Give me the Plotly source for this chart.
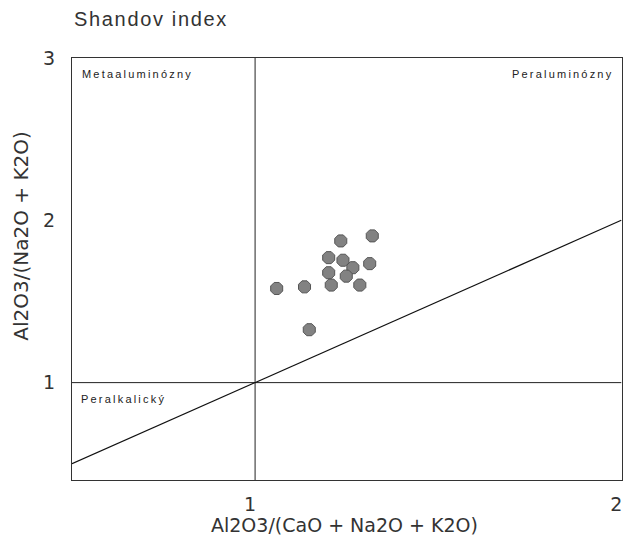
import plotly.graph_objects as go

# sample data: Al2O3/(CaO+Na2O+K2O) vs Al2O3/(Na2O+K2O)
acnk = [1.059, 1.135, 1.148, 1.234, 1.320, 1.201, 1.240, 1.267, 1.313, 1.201, 1.249, 1.208, 1.286]
ank = [1.580, 1.590, 1.326, 1.873, 1.904, 1.770, 1.754, 1.708, 1.733, 1.677, 1.656, 1.601, 1.601]

# field boundaries
x_range = [0.5, 2.0]
y_range = [0.4, 3.0]
boundary_x = [1.0, 1.0]
boundary_y = [0.4, 3.0]
diag = [0.5, 2.0]
x_ticks = [1, 2]
y_ticks = [1, 2, 3]

font_main = "Liberation Sans"
axis_font = "DejaVu Sans"
grey = "#333333"


def spaced(s, sp="\u2009"):
    return sp.join(list(s))


fig = go.Figure()
fig.add_trace(go.Scatter(x=boundary_x, y=boundary_y, mode="lines",
                         line=dict(color="#222", width=1), showlegend=False, hoverinfo="skip"))
fig.add_trace(go.Scatter(x=x_range, y=[1.0, 1.0], mode="lines",
                         line=dict(color="#222", width=1), showlegend=False, hoverinfo="skip"))
fig.add_trace(go.Scatter(x=diag, y=diag, mode="lines",
                         line=dict(color="#111", width=1.2), showlegend=False, hoverinfo="skip"))
fig.add_trace(go.Scatter(x=acnk, y=ank, mode="markers",
                         marker=dict(size=13, color="#828282", symbol="octagon",
                                     line=dict(color="#555", width=1)),
                         showlegend=False))

fig.update_xaxes(range=[x_range[0], x_range[1] + 0.002], tickvals=x_ticks,
                 ticktext=[str(t) for t in x_ticks], ticklabeloverflow="allow", automargin=False,
                 ticklabelshift=-5,
                 showgrid=False, zeroline=False, showline=True, mirror=True,
                 linecolor="#333", linewidth=1, ticks="outside", ticklen=7, tickcolor="rgba(0,0,0,0)",
                 tickfont=dict(family=axis_font, size=19, color=grey))
fig.update_yaxes(range=y_range, tickvals=y_ticks, ticktext=[str(t) for t in y_ticks],
                 automargin=False,
                 showgrid=False, zeroline=False, showline=True, mirror=True,
                 linecolor="#333", linewidth=1, ticks="outside", ticklen=12, tickcolor="rgba(0,0,0,0)",
                 tickfont=dict(family=axis_font, size=19, color=grey))

ann_font = dict(family=font_main, size=11, color="#222")
fig.add_annotation(x=0.522, y=2.9, text=spaced("Metaaluminózny"),
                   showarrow=False, xanchor="left", yanchor="middle", font=ann_font)
fig.add_annotation(x=1.98, y=2.9, text=spaced("Peraluminózny"),
                   showarrow=False, xanchor="right", yanchor="middle", font=ann_font)
fig.add_annotation(x=0.52, y=0.9, text=spaced("Peralkalický"),
                   showarrow=False, xanchor="left", yanchor="middle", font=ann_font)

fig.add_annotation(xref="paper", yref="paper", x=0.496, y=-0.075, text="Al2O3/(CaO + Na2O + K2O)",
                   showarrow=False, xanchor="center", yanchor="top",
                   font=dict(family=axis_font, size=19, color=grey))
fig.add_annotation(xref="paper", yref="paper", x=-0.092, y=0.58, text="Al2O3/(Na2O + K2O)",
                   showarrow=False, textangle=-90, xanchor="center", yanchor="middle",
                   font=dict(family=axis_font, size=20, color=grey))
fig.add_annotation(xref="paper", yref="paper", x=0.0, y=1.0, yshift=52, text=spaced("Shandov index", "\u200a"),
                   showarrow=False, xanchor="left", yanchor="top",
                   font=dict(family=font_main, size=20, color=grey))

fig.update_layout(width=625, height=541, margin=dict(l=72, r=3, t=58, b=61),
                  paper_bgcolor="white", plot_bgcolor="white")

fig.write_html("out.html")
